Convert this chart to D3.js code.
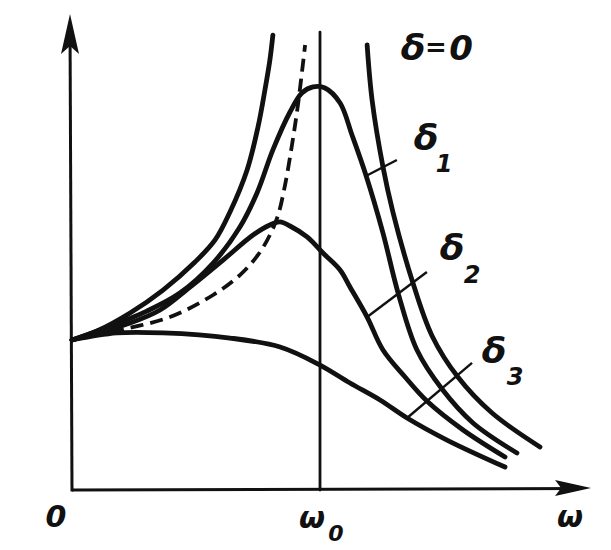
<!DOCTYPE html>
<html>
<head>
<meta charset="utf-8">
<script src="https://cdn.jsdelivr.net/npm/d3@7/dist/d3.min.js"></script>
<style>
html,body{margin:0;padding:0;background:#fff;}
svg{display:block;}
text{font-family:"DejaVu Sans",sans-serif;font-style:italic;font-weight:bold;fill:#111;}
</style>
</head>
<body>
<svg id="chart" width="611" height="550"></svg>
<script>
// ---- data (ω/ω0, amplitude relative to static value) ----
const curveNames = ["δ=0 left", "δ=0 right", "δ1", "δ2", "δ3"];
const delta0LeftX  = [0, 0.101, 0.234, 0.367, 0.496, 0.577, 0.637, 0.706, 0.75, 0.778, 0.798, 0.81];
const delta0LeftY  = [1.0, 1.06, 1.18, 1.333, 1.52, 1.667, 1.853, 2.133, 2.42, 2.667, 2.867, 3.033];
const delta0RightX = [1.19, 1.21, 1.254, 1.294, 1.371, 1.452, 1.556, 1.694, 1.887];
const delta0RightY = [2.967, 2.6, 2.153, 1.853, 1.4, 1.027, 0.753, 0.513, 0.287];
const delta1X = [0, 0.113, 0.302, 0.435, 0.569, 0.677, 0.746, 0.81, 0.879, 0.927, 0.972, 1.02, 1.081, 1.129, 1.185, 1.254, 1.315, 1.391, 1.492, 1.617, 1.794];
const delta1Y = [1.0, 1.067, 1.193, 1.313, 1.513, 1.753, 1.98, 2.267, 2.52, 2.647, 2.687, 2.68, 2.58, 2.367, 2.1, 1.713, 1.313, 0.933, 0.673, 0.447, 0.247];
const delta2X = [0, 0.234, 0.355, 0.476, 0.609, 0.73, 0.798, 0.839, 0.879, 0.948, 1.012, 1.081, 1.121, 1.19, 1.254, 1.343, 1.431, 1.577, 1.746];
const delta2Y = [1.0, 1.113, 1.2, 1.353, 1.533, 1.7, 1.767, 1.787, 1.76, 1.687, 1.58, 1.467, 1.353, 1.153, 0.933, 0.753, 0.593, 0.4, 0.22];
const delta3X = [0, 0.181, 0.367, 0.637, 0.839, 1.0, 1.121, 1.242, 1.351, 1.512, 1.746];
const delta3Y = [1.0, 1.047, 1.047, 1.013, 0.953, 0.833, 0.713, 0.6, 0.48, 0.333, 0.153];
// locus of resonance maxima (dashed)
const peakLocusX = [0, 0.194, 0.395, 0.569, 0.677, 0.75, 0.798, 0.831, 0.859, 0.887, 0.911, 0.94];
const peakLocusY = [1.0, 1.067, 1.153, 1.3, 1.433, 1.567, 1.7, 1.833, 2.033, 2.3, 2.567, 2.967];
// leader lines for labels: [x on curve, y on curve, x end, y end]
const leaderDelta1 = [1.185, 2.093, 1.31, 2.2];
const leaderDelta2 = [1.19, 1.153, 1.431, 1.453];
const leaderDelta3 = [1.351, 0.48, 1.613, 0.847];
// axis extents and labels
const xAxisMax = 2.093;
const yAxisMax = 3.173;
const omega0Top = 3.053;
const axisLabels = ["0", "ω", "0", "ω"];   // origin, ω0 (ω + subscript 0), axis ω
const curveLabels = ["δ", "=", "0", "δ", "1", "δ", "2", "δ", "3"];

// ---- scales ----
const x = d3.scaleLinear().domain([0, 1]).range([72, 320]);
const y = d3.scaleLinear().domain([0, 1]).range([490, 340]);

const svg = d3.select("#chart");
const ink = "#111";

const zip = (xs, ys) => xs.map((v, i) => [v, ys[i]]);
const line = d3.line().x(d => x(d[0])).y(d => y(d[1])).curve(d3.curveCatmullRom.alpha(0.5));

// axes
svg.append("line").attr("x1", x(0)).attr("y1", y(0)).attr("x2", x(xAxisMax) - 10).attr("y2", y(0) - 1.5)
  .attr("stroke", ink).attr("stroke-width", 3);
svg.append("line").attr("x1", x(0)).attr("y1", y(0) + 1.5).attr("x2", x(0) - 2).attr("y2", y(yAxisMax) + 10)
  .attr("stroke", ink).attr("stroke-width", 3);
// arrow heads
const xt = [x(xAxisMax), y(0) - 2];
svg.append("path").attr("d", `M${xt[0]},${xt[1]} L${xt[0] - 36},${xt[1] - 8} L${xt[0] - 30},${xt[1]} L${xt[0] - 36},${xt[1] + 8} Z`).attr("fill", ink);
const yt = [x(0) - 2, y(yAxisMax)];
svg.append("path").attr("d", `M${yt[0]},${yt[1]} L${yt[0] + 9},${yt[1] + 40} L${yt[0]},${yt[1] + 32} L${yt[0] - 9},${yt[1] + 40} Z`).attr("fill", ink);

// ω0 vertical
svg.append("line").attr("x1", x(1)).attr("y1", y(0)).attr("x2", x(1)).attr("y2", y(omega0Top))
  .attr("stroke", ink).attr("stroke-width", 2.8).attr("stroke-linecap", "round");

// curves
const series = [
  zip(delta0LeftX, delta0LeftY),
  zip(delta0RightX, delta0RightY),
  zip(delta1X, delta1Y),
  zip(delta2X, delta2Y),
  zip(delta3X, delta3Y)
];
svg.selectAll("path.curve").data(series).join("path").attr("class", "curve")
  .attr("d", line).attr("fill", "none").attr("stroke", ink).attr("stroke-width", 4.8)
  .attr("stroke-linecap", "round").attr("stroke-linejoin", "round");

svg.append("path").attr("d", line(zip(peakLocusX, peakLocusY))).attr("fill", "none")
  .attr("stroke", ink).attr("stroke-width", 3.8).attr("stroke-dasharray", "13 7");

// leader lines
[leaderDelta1, leaderDelta2, leaderDelta3].forEach(l => {
  svg.append("line").attr("x1", x(l[0])).attr("y1", y(l[1])).attr("x2", x(l[2])).attr("y2", y(l[3]))
    .attr("stroke", ink).attr("stroke-width", 2.4);
});

// axis labels
const t = (txt, px, py, size) => svg.append("text").attr("x", px).attr("y", py)
  .attr("font-size", size).attr("text-anchor", "middle").text(txt);
t(axisLabels[0], 56, 527, 30);
t(axisLabels[1], 312, 528, 30);
t(axisLabels[2], 336, 541, 22);
t(axisLabels[3], 570, 527, 30);

// curve labels
t(curveLabels[0], 413, 60, 36);
t(curveLabels[1], 436, 56, 26);
t(curveLabels[2], 461, 60, 34);
t(curveLabels[3], 426, 150, 36);
t(curveLabels[4], 444, 172, 24);
t(curveLabels[5], 452, 260, 36);
t(curveLabels[6], 472, 283, 24);
t(curveLabels[7], 494, 363, 36);
t(curveLabels[8], 515, 385, 24);
</script>
</body>
</html>
